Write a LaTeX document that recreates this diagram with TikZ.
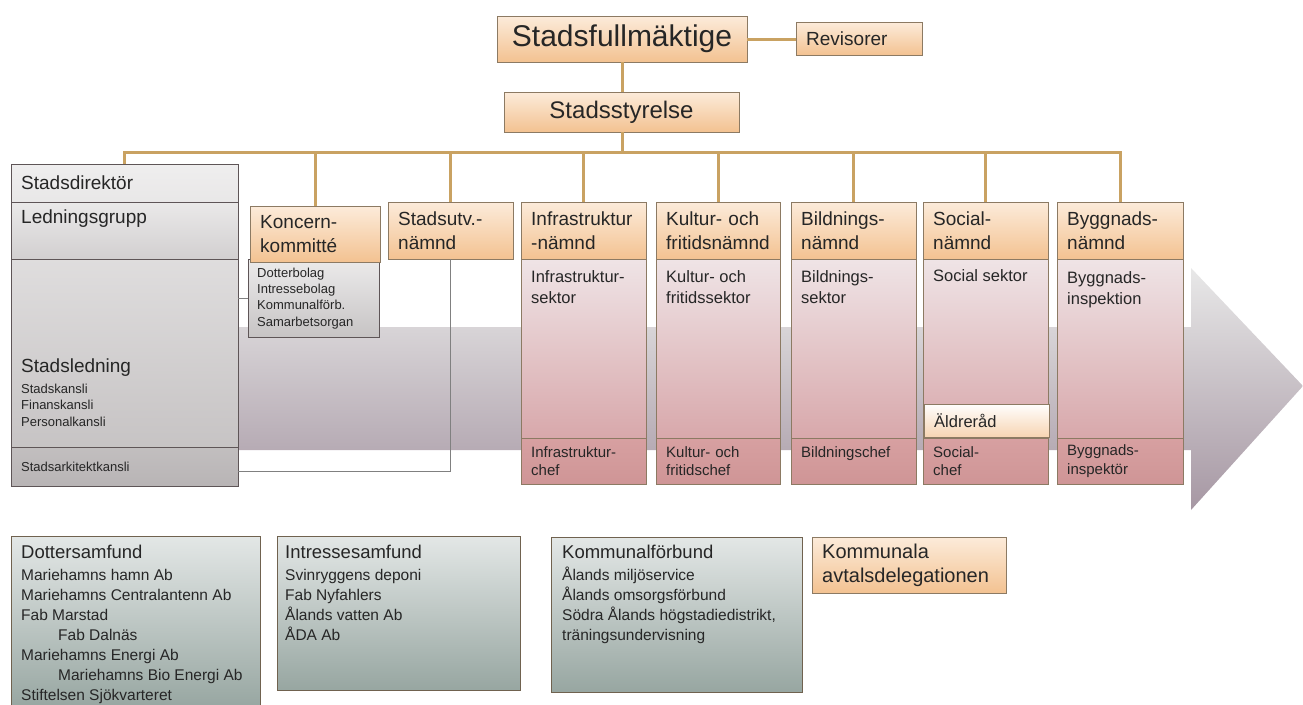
\documentclass[tikz,border=0pt]{standalone}
\usepackage{fontspec}
\setmainfont{Liberation Sans}
\definecolor{peachtop}{HTML}{FCEBDA}
\definecolor{peachbot}{HTML}{F3C291}
\definecolor{boxline}{HTML}{8C7A63}
\definecolor{goldline}{HTML}{C9A262}
\definecolor{sektortop}{HTML}{EFE4E6}
\definecolor{sektorbot}{HTML}{D8A8AB}
\definecolor{cheftop}{HTML}{D7A0A1}
\definecolor{chefbot}{HTML}{CF9596}
\definecolor{gratop}{HTML}{E3E7E6}
\definecolor{grabot}{HTML}{97A6A1}
\definecolor{lilaline}{HTML}{5E5557}
\definecolor{pilop}{HTML}{E8E8E8}
\definecolor{pilned}{HTML}{A697A3}
\definecolor{textc}{HTML}{262626}
\definecolor{graylink}{HTML}{808080}
\newcommand{\fjatte}{\fontsize{30}{36}\selectfont}
\newcommand{\fstor}{\fontsize{24}{29}\selectfont}
\newcommand{\frubrik}{\fontsize{19}{24}\selectfont}
\newcommand{\fbrod}{\fontsize{16.5}{21}\selectfont}
\newcommand{\fchef}{\fontsize{15}{18.5}\selectfont}
\newcommand{\fliten}{\fontsize{13}{16.5}\selectfont}
\newcommand{\flista}{\fontsize{15.5}{20}\selectfont}

\begin{document}
\begin{tikzpicture}[x=1pt,y=-1pt]
\tikzset{peach/.style={draw=boxline, top color=peachtop, bottom color=peachbot, inner xsep=10pt, inner ysep=0pt, align=left, anchor=north west, text=textc, font=\frubrik},
sektor/.style={draw=boxline, top color=sektortop, bottom color=sektorbot, inner sep=0pt, anchor=north west},
chefbox/.style={draw=boxline, top color=cheftop, bottom color=chefbot, inner xsep=10pt, inner ysep=0pt, align=left, anchor=north west, text=textc, font=\fchef},
lila/.style={draw=lilaline, inner xsep=10pt, inner ysep=0pt, align=left, anchor=north west, text=textc},
grabox/.style={draw=boxline!80!black, top color=gratop, bottom color=grabot, inner sep=0pt, anchor=north west},
tx/.style={inner sep=0pt, align=left, anchor=west, text=textc},
lista/.style={tx, anchor=north west, font=\flista},
lank/.style={draw=goldline, line width=3pt},
tunn/.style={draw=graylink, line width=0.9pt}}
\useasboundingbox (0,0) rectangle (1303,704);
\path[top color=pilop, bottom color=pilned] (200,327) -- (1191,327) -- (1191,268) -- (1303,386) -- (1191,510) -- (1191,450) -- (200,450) -- cycle;
\node[peach, anchor=center, minimum width=250, minimum height=46, font=\fjatte] (Sf) at (622,39) {Stadsfullmäktige};
\node[peach, text width=106, minimum height=33] (Rev) at (796,22) {Revisorer};
\node[peach, anchor=center, minimum width=235, minimum height=40, font=\fstor] (Ss) at (621.5,112) {Stadsstyrelse};
\node[lila, text width=207, minimum height=38, top color=white!90!lilaline, bottom color=white!86!lilaline, font=\frubrik] (D1) at (11,164) {Stadsdirektör};
\node[lila, minimum width=227, minimum height=57, inner sep=0pt, top color=white!87!lilaline, bottom color=white!72!lilaline] (D2) at (11,202) {};
\node[lila, minimum width=227, minimum height=188, inner sep=0pt, top color=white!80!lilaline, bottom color=white!65!lilaline] (D3) at (11,259) {};
\node[lila, text width=207, minimum height=39, top color=white!62!lilaline, bottom color=white!56!lilaline, font=\fliten] (D4) at (11,447) {Stadsarkitektkansli};
\node[tx, font=\frubrik] (D2t) at (21,219) {Ledningsgrupp};
\node[tx, font=\frubrik] (D3t) at (21,368) {Stadsledning};
\node[tx, font=\fliten] (D3s) at (21,405) {Stadskansli\\Finanskansli\\Personalkansli};
\node[lila, text width=113, inner xsep=9pt, minimum height=78, top color=white!88!lilaline, bottom color=white!65!lilaline, font=\fontsize{13}{16.3}\selectfont] (KS) at (248,259) {Dotterbolag\\Intressebolag\\Kommunalförb.\\Samarbetsorgan};
\node[peach, text width=110, minimum height=56] (K1) at (250,206) {Koncern-\\kommitté};
\node[peach, text width=105, minimum height=57] (U1) at (388,202) {Stadsutv.-\\nämnd};
\node[sektor, minimum width=125, minimum height=179] (N1b) at (521,259) {};
\node[chefbox, text width=105, minimum height=46] (N1c) at (521,438) {Infrastruktur-\\chef};
\node[peach, text width=105, minimum height=57] (N1) at (521,202) {Infrastruktur\\-nämnd};
\node[tx, font=\fbrod] (N1t) at (531,287.5) {Infrastruktur-\\sektor};
\node[sektor, minimum width=124, minimum height=179] (N2b) at (656,259) {};
\node[chefbox, text width=104, minimum height=46] (N2c) at (656,438) {Kultur- och\\fritidschef};
\node[peach, text width=104, minimum height=57] (N2) at (656,202) {Kultur- och\\fritidsnämnd};
\node[tx, font=\fbrod] (N2t) at (666,287.5) {Kultur- och\\fritidssektor};
\node[sektor, minimum width=125, minimum height=179] (N3b) at (791,259) {};
\node[chefbox, text width=105, minimum height=46] (N3c) at (791,438) {Bildningschef\\\mbox{}};
\node[peach, text width=105, minimum height=57] (N3) at (791,202) {Bildnings-\\nämnd};
\node[tx, font=\fbrod] (N3t) at (801,287.5) {Bildnings-\\sektor};
\node[sektor, minimum width=125, minimum height=179] (N4b) at (923,259) {};
\node[peach, text width=105, minimum height=33, top color=white!95!peachtop, bottom color=peachbot!70!white, font=\fbrod] (Ald) at (924,404) {Äldreråd};
\node[chefbox, text width=105, minimum height=46] (N4c) at (923,438) {Social-\\chef};
\node[peach, text width=105, minimum height=57] (N4) at (923,202) {Social-\\nämnd};
\node[tx, font=\fbrod] (N4t) at (933,276) {Social sektor};
\node[sektor, minimum width=126, minimum height=179] (N5b) at (1057,259) {};
\node[chefbox, text width=106, minimum height=46] (N5c) at (1057,438) {Byggnads-\\inspektör};
\node[peach, text width=106, minimum height=57] (N5) at (1057,202) {Byggnads-\\nämnd};
\node[tx, font=\fbrod] (N5t) at (1067,290) {Byggnads-\\inspektion};
\node[grabox, minimum width=249, minimum height=172] (B1) at (11,536) {};
\node[lista] (B1t) at (21,545) {{\fontsize{18.5}{22}\selectfont Dottersamfund}\\[1.5pt]Mariehamns hamn Ab\\Mariehamns Centralantenn Ab\\Fab Marstad\\\hspace*{37pt}Fab Dalnäs\\Mariehamns Energi Ab\\\hspace*{37pt}Mariehamns Bio Energi Ab\\Stiftelsen Sjökvarteret};
\node[grabox, minimum width=243, minimum height=154] (B2) at (277,536) {};
\node[lista] (B2t) at (285,545) {{\fontsize{18.5}{22}\selectfont Intressesamfund}\\[1.5pt]Svinryggens deponi\\Fab Nyfahlers\\Ålands vatten Ab\\ÅDA Ab};
\node[grabox, minimum width=251, minimum height=155] (B3) at (551,537) {};
\node[lista] (B3t) at (562,545) {{\fontsize{18.5}{22}\selectfont Kommunalförbund}\\[1.5pt]Ålands miljöservice\\Ålands omsorgsförbund\\Södra Ålands högstadiedistrikt,\\träningsundervisning};
\node[peach, text width=174, minimum height=56, font=\fontsize{20}{24}\selectfont] (B4) at (812,537) {Kommunala\\avtalsdelegationen};
\coordinate (Buss) at (622,152);
\draw[lank] (Sf.east) -- (Sf.east -| Rev.west);
\draw[lank] (Sf.south) -- (Sf.south |- Ss.north);
\draw[lank] (Ss.south -| Buss) -- (Buss);
\draw[lank] (Buss) -| (D1.north);
\draw[lank] (Buss) -| (K1.north);
\draw[lank] (Buss) -| (U1.north);
\draw[lank] (Buss) -| (N1.north);
\draw[lank] (Buss) -| (N2.north);
\draw[lank] (Buss) -| (N3.north);
\draw[lank] (Buss) -| (N4.north);
\draw[lank] (Buss) -| (N5.north);
\draw[tunn] ([yshift=-4.5pt]D4.east) -| (U1.south);
\draw[tunn] (KS.west -| D3.east) -- (KS.west);
\end{tikzpicture}
\end{document}
